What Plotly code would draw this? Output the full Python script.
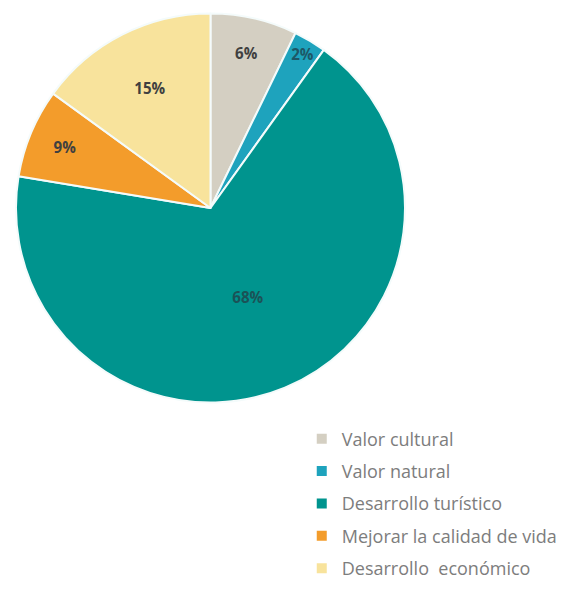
import plotly.graph_objects as go

# slices (angles), with the labels printed on the chart
labels = ["Valor cultural", "Valor natural", "Desarrollo turístico",
          "Mejorar la calidad de vida", "Desarrollo  económico"]
values = [7.2, 2.7, 67.7, 7.4, 15.0]
shown = ["6%", "2%", "68%", "9%", "15%"]
colors = ["#d4cfc2", "#1ea3bd", "#00948e", "#f39c2b", "#f8e39c"]
text_colors = ["#404040", "#1d5766", "#1b5257", "#404040", "#404040"]

fig = go.Figure()

fig.add_trace(go.Pie(
    labels=labels,
    values=values,
    text=shown,
    textinfo="text",
    textposition="inside",
    insidetextorientation="horizontal",
    textfont=dict(family="Open Sans", size=16, color=text_colors, weight="bold"),
    marker=dict(colors=colors, line=dict(color="#f4fbfb", width=2)),
    sort=False,
    direction="clockwise",
    rotation=0,
    showlegend=False,
    hoverinfo="label+percent",
    domain=dict(x=[0.0141, 0.7014], y=[0.345, 0.9917]),
))

# legend entries (one group each so the spacing can be opened up)
for lab, col in zip(labels, colors):
    fig.add_trace(go.Scatter(
        x=[None], y=[None], mode="markers", name=lab,
        legendgroup=lab,
        marker=dict(symbol="square", size=10, color=col),
    ))

fig.update_layout(
    width=566, height=603,
    margin=dict(l=0, r=0, t=0, b=0),
    paper_bgcolor="white",
    plot_bgcolor="white",
    xaxis=dict(visible=False),
    yaxis=dict(visible=False),
    uniformtext=dict(minsize=15, mode="show"),
    legend=dict(
        x=0.519, y=0.316, xanchor="left", yanchor="top",
        traceorder="grouped",
        tracegroupgap=6,
        font=dict(family="Open Sans", size=18, color="#7d7d7d"),
        bgcolor="rgba(0,0,0,0)",
    ),
)

fig.write_html("out.html")
